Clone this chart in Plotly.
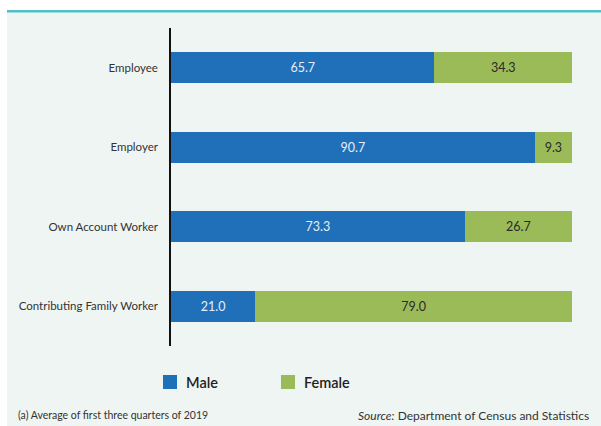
import plotly.graph_objects as go

categories = ["Employee", "Employer", "Own Account Worker", "Contributing Family Worker"]
male = [65.7, 90.7, 73.3, 21.0]
female = [34.3, 9.3, 26.7, 79.0]
series_names = ["Male", "Female"]
colors = ["#1F70B8", "#9BBB59"]

W, H = 601, 426
L, R, T, B = 171, 29, 28, 80
FONT = "Lato"

def px(x):
    return (x - L) / (W - L - R)

def py(y):
    return 1 - (y - T) / (H - T - B)

fig = go.Figure()
fig.add_trace(go.Bar(
    y=categories, x=male, orientation="h", name=series_names[0],
    marker=dict(color=colors[0], line=dict(width=0)),
    text=[f"{v:.1f}" for v in male], textposition="inside",
    insidetextanchor="middle", textfont=dict(color="#E6EEF7", size=12.5, family=FONT),
    showlegend=False,
))
fig.add_trace(go.Bar(
    y=categories, x=female, orientation="h", name=series_names[1],
    marker=dict(color=colors[1], line=dict(width=0)),
    text=[f"{v:.1f}" for v in female], textposition="inside",
    insidetextanchor="middle", textfont=dict(color="#2A2A2A", size=12.5, family=FONT),
    showlegend=False,
))

shapes = [
    dict(type="rect", xref="paper", yref="paper", x0=px(7), x1=px(W + 2), y0=py(12), y1=py(H + 2),
         fillcolor="#EFF5F3", line=dict(width=0), layer="below"),
    dict(type="rect", xref="paper", yref="paper", x0=px(7), x1=px(W + 2), y0=py(10), y1=py(12.5),
         fillcolor="#4FBFCB", line=dict(width=0), layer="below"),
]
annotations = []
leg = [(163, series_names[0], colors[0]), (281, series_names[1], colors[1])]
for x0, name, c in leg:
    shapes.append(dict(type="rect", xref="paper", yref="paper", x0=px(x0), x1=px(x0 + 14),
                       y0=py(375), y1=py(389), fillcolor=c, line=dict(width=0)))
    annotations.append(dict(xref="paper", yref="paper", x=px(x0 + 21), y=py(382), text=name,
                            showarrow=False, xanchor="left", yanchor="middle",
                            font=dict(size=14.5, color="#1E1E1E", family=FONT, weight=600)))
annotations.append(dict(xref="paper", yref="paper", x=px(16), y=py(415),
                        text="(a) Average of first three quarters of 2019", showarrow=False,
                        xanchor="left", yanchor="middle", font=dict(size=10.5, color="#333", family=FONT)))
annotations.append(dict(xref="paper", yref="paper", x=px(591), y=py(415),
                        text="<i>Source:</i> Department of Census and Statistics", showarrow=False,
                        xanchor="right", yanchor="middle", font=dict(size=12, color="#333", family=FONT)))

fig.update_layout(
    width=W, height=H, barmode="stack", bargap=0.61,
    margin=dict(l=L, r=R, t=T, b=B, pad=0),
    paper_bgcolor="white", plot_bgcolor="rgba(0,0,0,0)",
    font=dict(family=FONT, size=11, color="#333"),
    shapes=shapes, annotations=annotations,
    xaxis=dict(range=[0, 100], visible=False, fixedrange=True),
    yaxis=dict(categoryorder="array", categoryarray=categories, autorange="reversed",
               showline=True, linecolor="#111", linewidth=1.5, ticks="", showgrid=False,
               ticklabelstandoff=9, tickfont=dict(size=11.5, color="#333", family=FONT)),
)
fig.write_html("out.html")
